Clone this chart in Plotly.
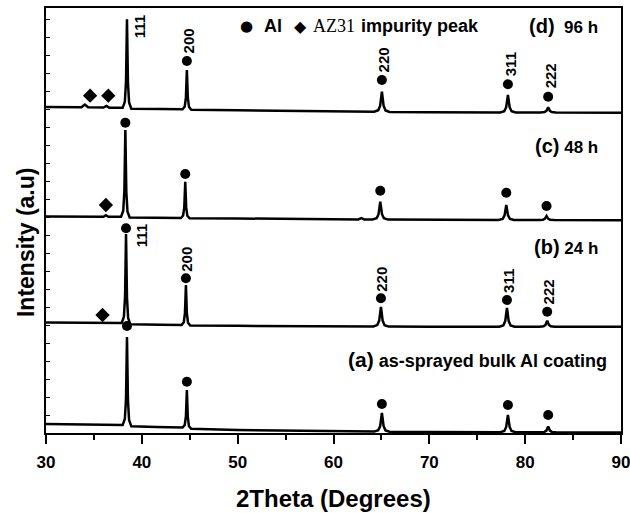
import plotly.graph_objects as go

# ---------------- data (2Theta in degrees, intensity in a.u.) ----------------
two_theta_a = [30, 34, 38.0, 38.23, 38.35, 38.45, 38.55, 38.67, 38.9,
               41.5, 44.25, 44.48, 44.6, 44.7, 44.8, 44.92, 45.15,
               50, 57, 64.25, 64.67, 64.87, 65.05, 65.23, 65.43, 65.85,
               70, 77.4, 77.82, 78.02, 78.2, 78.38, 78.58, 79.0,
               81.6, 82.02, 82.22, 82.4, 82.58, 82.78, 83.2, 90]
intensity_a = [9, 8.5, 8, 14.2, 34.4, 96, 33.1, 12.9, 6.7,
               6, 5.5, 8.1, 16.8, 43, 15.5, 6.8, 4.2,
               3, 2.5, 1.4, 2.7, 6.9, 20, 6.9, 2.6, 1.2,
               1, 0.8, 2.0, 6.0, 18, 6.0, 2.0, 0.8,
               0.7, 1.1, 2.4, 6.5, 2.4, 1.1, 0.7, 0.5]

two_theta_b = [30, 34, 37.9, 38.13, 38.25, 38.35, 38.45, 38.57, 38.8,
               42, 44.15, 44.38, 44.5, 44.6, 44.7, 44.82, 45.05,
               50, 57, 64.15, 64.57, 64.77, 64.95, 65.13, 65.33, 65.75,
               70, 77.3, 77.72, 77.92, 78.1, 78.28, 78.48, 78.9,
               81.5, 81.92, 82.12, 82.3, 82.48, 82.68, 83.1, 90]
intensity_b = [110.5, 110.2, 110, 116.2, 136.7, 199, 135.4, 114.9, 108.7,
               108.2, 108, 110.8, 120, 148, 119.5, 110.3, 107.5,
               107.2, 106.8, 106.5, 107.9, 112.4, 126, 112.3, 107.8, 106.4,
               106.3, 106.3, 107.6, 111.9, 125, 111.9, 107.6, 106.3,
               106.3, 106.7, 108.1, 112.3, 108.1, 106.7, 106.3, 106.3]

two_theta_c = [30, 34, 36.0, 36.25, 36.5, 37.83, 38.06, 38.18, 38.28, 38.38, 38.5, 38.73,
               42, 44.08, 44.31, 44.43, 44.53, 44.63, 44.75, 44.98,
               50, 57, 62.6, 62.9, 63.2, 64.08, 64.5, 64.7, 64.88, 65.06, 65.26, 65.68,
               70, 77.23, 77.65, 77.85, 78.03, 78.21, 78.41, 78.83,
               81.43, 81.85, 82.05, 82.23, 82.41, 82.61, 83.03, 90]
intensity_c = [216.5, 216.4, 216.3, 217.8, 216.3, 216.2, 222.3, 242.2, 303, 241.5, 221.6, 215.5,
               215.2, 215, 217.5, 225.9, 251.3, 225.6, 217.2, 214.7,
               214.5, 214, 213.6, 214.8, 213.6, 213.5, 214.7, 218.8, 231.3, 218.8, 214.7, 213.4,
               213.2, 213.1, 214.1, 217.6, 228, 217.6, 214.1, 213.1,
               213, 213.3, 214.2, 217, 214.2, 213.3, 213, 212.8]

two_theta_d = [30, 33.7, 34.05, 34.4, 36.0, 36.3, 36.6, 38.0, 38.23, 38.35, 38.45, 38.55, 38.67, 38.9,
               42, 44.25, 44.48, 44.6, 44.7, 44.8, 44.92, 45.15,
               50, 57, 64.25, 64.67, 64.87, 65.05, 65.23, 65.43, 65.85,
               70, 77.4, 77.82, 78.02, 78.2, 78.38, 78.58, 79.0,
               81.6, 82.02, 82.22, 82.4, 82.58, 82.78, 83.2, 90]
intensity_d = [326, 325.8, 328.5, 325.7, 325.5, 327, 325.3, 325.2, 331.4, 351.6, 413.7, 350.7, 330.5, 324.3,
               324, 323.8, 326.5, 335.6, 363, 335.3, 326.2, 323.3,
               322.8, 322, 321.3, 322.7, 327.3, 341.3, 327.2, 322.6, 321.1,
               320.8, 320.6, 321.8, 325.8, 338, 325.8, 321.8, 320.5,
               320.5, 320.9, 322.1, 325.7, 322.1, 320.9, 320.4, 320.3]

# Al peak markers (2Theta, height)
al_x_a = [38.45, 44.7, 65.05, 78.2, 82.4]
al_y_a = [107, 51.3, 29, 28, 18]
al_x_b = [38.35, 44.6, 64.95, 78.1, 82.3]
al_y_b = [204.7, 154.7, 134.7, 133, 121.3]
al_x_c = [38.28, 44.53, 64.88, 78.03, 82.23]
al_y_c = [310.3, 259, 242.3, 240.3, 227]
al_x_d = [44.7, 65.05, 78.2, 82.4]
al_y_d = [372, 353, 348.7, 336.3]

# AZ31 impurity markers
imp_x = [34.6, 36.5, 36.25, 35.9]
imp_y = [337.3, 337.3, 228, 118]

# Miller indices
hkl_d = ["200", "220", "311", "222"]
hkl_b = ["111", "200", "220", "311", "222"]

x_ticks = [30, 40, 50, 60, 70, 80, 90]

# ---------------- figure ----------------
SANS = "Liberation Sans, Arial, sans-serif"
SERIF = "Liberation Serif, Times New Roman, serif"

fig = go.Figure()
for xs, ys in [(two_theta_a, intensity_a), (two_theta_b, intensity_b),
               (two_theta_c, intensity_c), (two_theta_d, intensity_d)]:
    fig.add_trace(go.Scatter(x=xs, y=ys, mode="lines",
                             line=dict(color="black", width=2.5),
                             showlegend=False, hoverinfo="skip"))

fig.add_trace(go.Scatter(x=al_x_a + al_x_b + al_x_c + al_x_d,
                         y=al_y_a + al_y_b + al_y_c + al_y_d,
                         mode="markers",
                         marker=dict(symbol="circle", size=10, color="black"),
                         showlegend=False, hoverinfo="skip"))
fig.add_trace(go.Scatter(x=imp_x, y=imp_y, mode="markers",
                         marker=dict(symbol="diamond", size=11, color="black"),
                         showlegend=False, hoverinfo="skip"))

annotations = []
lab_font = dict(family=SANS, size=15, color="black")
# (d) labels
annotations.append(dict(x=38.45, y=al_y_c[0] + 96, xref="x", yref="y", text="<b>111</b>",
                        textangle=-90, showarrow=False, font=lab_font,
                        xanchor="left", yanchor="middle", xshift=2))
for xv, yv, t in zip(al_x_d, al_y_d, hkl_d):
    annotations.append(dict(x=xv, y=yv, xref="x", yref="y", text="<b>%s</b>" % t,
                            textangle=-90, showarrow=False, font=lab_font,
                            xanchor="center", yanchor="bottom", yshift=6, xshift=2))
# (b) labels
annotations.append(dict(x=al_x_b[0], y=al_y_b[0], xref="x", yref="y", text="<b>111</b>",
                        textangle=-90, showarrow=False, font=lab_font,
                        xanchor="left", yanchor="top", xshift=5, yshift=6))
for xv, yv, t in zip(al_x_b[1:], al_y_b[1:], hkl_b[1:]):
    annotations.append(dict(x=xv, y=yv, xref="x", yref="y", text="<b>%s</b>" % t,
                            textangle=-90, showarrow=False, font=lab_font,
                            xanchor="center", yanchor="bottom", yshift=5, xshift=1))

# key at top
key_y = 0.957
annotations += [
    dict(x=0.349, y=key_y, xref="paper", yref="paper", text="●", showarrow=False,
         font=dict(family="DejaVu Sans", size=15, color="black"), xanchor="center", yanchor="middle"),
    dict(x=0.375, y=key_y, xref="paper", yref="paper", text="<b>Al</b>", showarrow=False,
         font=dict(family=SANS, size=18, color="black"), xanchor="left", yanchor="middle"),
    dict(x=0.442, y=key_y, xref="paper", yref="paper", text="◆", showarrow=False,
         font=dict(family="DejaVu Sans", size=16, color="black"), xanchor="center", yanchor="middle"),
    dict(x=0.461, y=key_y, xref="paper", yref="paper", text="AZ31", showarrow=False,
         font=dict(family=SERIF, size=18, color="black"), xanchor="left", yanchor="middle"),
    dict(x=0.544, y=key_y, xref="paper", yref="paper", text="<b>impurity peak</b>", showarrow=False,
         font=dict(family=SANS, size=18, color="black"), xanchor="left", yanchor="middle"),
]
# curve labels
cur_font = dict(family=SANS, size=17, color="black")
annotations += [
    dict(x=0.963, y=0.957, xref="paper", yref="paper", text="<b><span style='font-size:20px'>(d)</span>  96 h</b>",
         showarrow=False, font=cur_font, xanchor="right", yanchor="middle"),
    dict(x=0.963, y=0.675, xref="paper", yref="paper", text="<b><span style='font-size:20px'>(c)</span> 48 h</b>",
         showarrow=False, font=cur_font, xanchor="right", yanchor="middle"),
    dict(x=0.963, y=0.438, xref="paper", yref="paper", text="<b><span style='font-size:20px'>(b)</span> 24 h</b>",
         showarrow=False, font=cur_font, xanchor="right", yanchor="middle"),
    dict(x=0.979, y=0.173, xref="paper", yref="paper",
         text="<b><span style='font-size:21px'>(a)</span> as-sprayed bulk Al coating</b>",
         showarrow=False, font=dict(family=SANS, size=18, color="black"), xanchor="right", yanchor="middle"),
]
# axis titles
annotations += [
    dict(x=0.5, y=-0.153, xref="paper", yref="paper", text="<b>2Theta (Degrees)</b>", showarrow=False,
         font=dict(family=SANS, size=24, color="black"), xanchor="center", yanchor="middle"),
    dict(x=-0.036, y=0.45, xref="paper", yref="paper", text="<b>Intensity (a.u)</b>", showarrow=False,
         textangle=-90, font=dict(family=SANS, size=23, color="black"), xanchor="center", yanchor="middle"),
]

fig.update_layout(
    width=630, height=513,
    margin=dict(l=46, r=9, t=8, b=80, autoexpand=False),
    paper_bgcolor="white", plot_bgcolor="white",
    annotations=annotations,
    xaxis=dict(range=[30, 90], tickvals=x_ticks, ticktext=["<b>%d</b>" % v for v in x_ticks],
               ticks="outside", ticklen=9, tickwidth=1.5, tickcolor="black",
               minor=dict(dtick=5, tick0=30, ticks="outside", ticklen=5, tickwidth=1.5, tickcolor="black"),
               showline=True, linecolor="black", linewidth=1.5, mirror=True,
               showgrid=False, zeroline=False, automargin=False, ticklabeloverflow="allow",
               tickfont=dict(family=SANS, size=17, color="black"), ticklabelstandoff=4),
    yaxis=dict(range=[0, 425], showticklabels=False, dtick=18, tick0=0,
               ticks="inside", ticklen=4, tickwidth=1, tickcolor="black",
               showline=True, linecolor="black", linewidth=1.5, mirror=True,
               showgrid=False, zeroline=False, automargin=False),
    yaxis2=dict(range=[0, 425], overlaying="y", side="right", showticklabels=False,
                dtick=10.8, tick0=0, ticks="outside", ticklen=3, tickwidth=1, tickcolor="black",
                showline=False, showgrid=False, zeroline=False, automargin=False),
    xaxis2=dict(range=[30, 90], overlaying="x", side="top", showticklabels=False,
                dtick=6, tick0=30, ticks="outside", ticklen=3, tickwidth=1, tickcolor="black",
                showline=False, showgrid=False, zeroline=False, automargin=False),
)

fig.write_html("out.html", config={"displayModeBar": False},
               post_script="document.body.style.margin='0';")
